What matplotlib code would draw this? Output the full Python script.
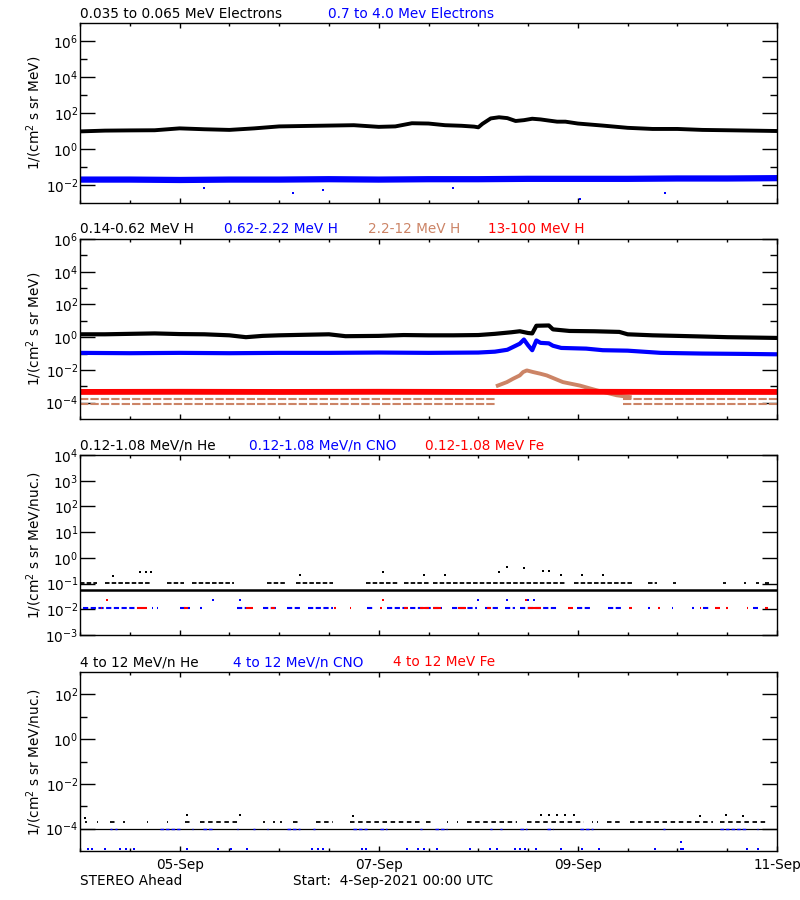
import matplotlib
matplotlib.use('Agg')
import matplotlib.pyplot as plt
from matplotlib.ticker import FixedLocator, FixedFormatter, NullFormatter

plt.rcParams['font.family'] = ['DejaVu Sans']
plt.rcParams['mathtext.fontset'] = 'dejavusans'

SIENNA = '#CC8466'

# ---------------- panel 1: electrons (hours since 4-Sep 00:00)
e_lo_hours = [0, 6, 12, 18, 24, 30, 36, 42, 48, 54, 60, 66, 72, 76, 80, 84, 88, 92, 95, 96,
              97, 99, 101, 103, 105, 107, 109, 111, 113, 115, 117, 120, 126, 132, 138, 144,
              150, 156, 162, 168]
e_lo_flux = [9.5, 10.5, 10.8, 11, 14, 12.5, 11.5, 14, 18, 19, 20, 21, 17, 18, 27, 26, 21, 19.5,
             17.5, 16, 25, 50, 58, 52, 36, 40, 48, 44, 38, 33, 33, 26, 20, 15, 13, 13, 11.5, 11,
             10.5, 10]
e_hi_hours = [0, 12, 24, 36, 48, 60, 72, 84, 96, 108, 120, 132, 144, 156, 168]
e_hi_flux = [0.020, 0.020, 0.019, 0.020, 0.020, 0.021, 0.020, 0.021, 0.021, 0.022, 0.022,
             0.022, 0.023, 0.023, 0.024]
e_hi_out_hours = [51.4, 58.6, 120.5, 141, 30, 90]
e_hi_out_flux = [0.0036, 0.005, 0.0017, 0.0036, 0.007, 0.007]

# ---------------- panel 2: protons
h1_hours = [0, 6, 12, 18, 24, 30, 36, 40, 44, 48, 54, 60, 64, 72, 78, 84, 90, 96, 100, 104,
            106, 108, 109, 110, 113, 114, 118, 124, 130, 132, 138, 144, 150, 156, 162, 168]
h1_flux = [1.5, 1.5, 1.6, 1.7, 1.55, 1.5, 1.3, 1.0, 1.2, 1.3, 1.4, 1.5, 1.15, 1.2, 1.35, 1.3,
           1.3, 1.35, 1.6, 2.0, 2.3, 1.8, 1.7, 5.0, 5.2, 3.0, 2.4, 2.3, 2.1, 1.5, 1.3, 1.2, 1.1,
           1.0, 0.95, 0.9]
h2_hours = [0, 12, 24, 36, 48, 60, 72, 84, 96, 100, 103, 105, 106, 107, 108, 109, 110, 111,
            113, 114, 116, 122, 126, 132, 140, 150, 160, 168]
h2_flux = [0.11, 0.105, 0.11, 0.105, 0.11, 0.11, 0.115, 0.11, 0.115, 0.13, 0.17, 0.3, 0.4,
           0.72, 0.32, 0.16, 0.63, 0.45, 0.42, 0.3, 0.22, 0.2, 0.16, 0.15, 0.11, 0.1, 0.095, 0.09]
h3_hours = [100.7, 102.9, 104.4, 106, 106.8, 107.7, 109.2, 110.9, 112.5, 116.4, 120.5, 124.6,
            129.4, 132.5]
h3_flux = [1.1e-3, 1.8e-3, 2.9e-3, 4.6e-3, 7.4e-3, 9.3e-3, 7.4e-3, 5.9e-3, 4.6e-3, 1.8e-3,
           1.1e-3, 5.6e-4, 2.8e-4, 2.2e-4]
h3_base_levels = [1.6e-4, 8e-5]
h3_base_start = [0, 131]
h3_base_end = [100, 168]
h4_hours = [0, 24, 48, 72, 96, 120, 144, 168]
h4_flux = [4.5e-4, 4.6e-4, 4.5e-4, 4.6e-4, 4.5e-4, 4.6e-4, 4.5e-4, 4.5e-4]

# ---------------- panel 3: 0.12-1.08 MeV/n ions
he_base_level = 0.055
he_mid_level = 0.11
he_mid_start = [0, 6, 21, 27, 45, 52, 69, 78, 85, 119, 137, 143, 155, 160, 163, 165]
he_mid_end = [4, 17, 25, 37, 50, 61, 77, 84, 117, 133, 139, 143.6, 155.6, 160.6, 163.6, 166]
he_high_hours = [14.5, 16, 17, 8, 53, 73, 83, 88, 101, 103, 107, 111.6, 113, 116, 121, 126]
he_high_flux = [0.27, 0.27, 0.27, 0.2, 0.22, 0.27, 0.21, 0.22, 0.27, 0.43, 0.4, 0.3, 0.3,
                0.21, 0.21, 0.21]
cno_level = 0.0117
cno_start = [0.8, 17.3, 18.5, 24.1, 28.9, 37.8, 44.2, 49.8, 55, 69.1, 73.9, 89.6, 97.6, 102.4,
             106, 119.7, 127.3, 136.9, 142.6, 147.6, 150.1, 162.2]
cno_end = [13.7, 17.7, 18.9, 26.5, 29.3, 40, 47.4, 53, 61, 70.7, 87.2, 95.6, 101.2, 104.8,
           115.3, 122.9, 130.5, 137.4, 143, 148, 151.8, 163.4]
fe_start = [5, 13.7, 25, 40, 46, 61.2, 65, 72.3, 78, 82, 85, 91, 98, 108, 117.7, 132.3, 139.3,
            149.4, 153, 155.7, 160.7, 165.1]
fe_end = [5.4, 16.1, 26, 41.8, 47, 61.6, 65.4, 72.7, 79, 84, 87, 93, 99, 111, 118.9, 133,
          139.7, 149.8, 154.2, 156.1, 161.1, 165.8]
cno_high_hours = [32, 38.6, 96, 103, 108, 109.5]
fe_high_hours = [6.4, 73, 107.5]
ion_high_level = 0.023

# ---------------- panel 4: 4-12 MeV/n ions
he4_base_level = 1e-4
he4_up_level = 2e-4
he4_up_start = [1.2, 4.0, 7.2, 10.4, 16.1, 20.9, 25.3, 29, 44.2, 46.6, 48.2, 51.4, 57, 65,
                83.5, 88.4, 90.8, 93.2, 107.7, 123.3, 124.5, 127, 132.5, 154.2]
he4_up_end = [1.6, 4.4, 8.4, 10.8, 16.5, 21.3, 27.3, 38.6, 44.6, 47, 48.6, 53, 61, 82, 85.2,
              88.8, 91.2, 105.3, 121.4, 123.7, 124.9, 130.2, 152.6, 165.4]
he4_high_hours = [1.2, 25.7, 38.6, 65.9, 111, 113, 115, 117, 119, 149.4, 155.8, 159.9]
he4_high_flux = [3e-4, 3.9e-4, 4.2e-4, 3.5e-4, 3.9e-4, 3.9e-4, 3.9e-4, 3.9e-4, 3.9e-4, 3.5e-4,
                 4.2e-4, 3.7e-4]
cno4_on_start = [7.2, 8.4, 19.3, 26.9, 29.7, 37.8, 41.8, 45, 49.8, 56.2, 65.9, 72.3, 82, 85.6,
                 98.8, 101.2, 106, 112.5, 120.5, 140.6, 154.2, 163.1]
cno4_on_end = [7.6, 8.8, 24.1, 27.3, 32.1, 38.2, 42.2, 45.4, 53, 56.6, 69.1, 73.9, 82.4, 88.4,
               99.2, 101.6, 107.7, 114.1, 123.7, 141, 160.7, 163.5]
cno4_low_hours = [2, 3, 6, 9.6, 11, 12.9, 25.7, 33.3, 36.5, 40.2, 56, 57.3, 58.6, 68, 69, 78.8,
                  81.5, 83, 86, 94, 98.8, 100.5, 104.8, 106, 107.3, 110, 116, 121, 125, 138.6,
                  144.8, 145.3, 160.7, 163.4]
cno4_low_flux = 1.2e-5
cno4_mid_hours = [144.8]
cno4_mid_flux = [2.5e-5]

xtick_hours = [24, 72, 120, 168]
xtick_labels = ['05-Sep', '07-Sep', '09-Sep', '11-Sep']

FS = 9.8
W, H = 800, 900
fig = plt.figure(figsize=(8, 9), dpi=100)


def px_axes(top, bottom):
    return fig.add_axes([80 / W, 1 - bottom / H, 697 / W, (bottom - top) / H])


def exp_label(e):
    return '$10^{%d}$' % e


def setup(ax, ylim, major_exp, minor_exp, show_x=False):
    ax.set_yscale('log')
    ax.set_ylim(*ylim)
    ax.set_xlim(0, 168)
    ax.yaxis.set_major_locator(FixedLocator([10.0 ** e for e in major_exp]))
    ax.yaxis.set_major_formatter(FixedFormatter([exp_label(e) for e in major_exp]))
    ax.yaxis.set_minor_locator(FixedLocator([10.0 ** e for e in minor_exp]))
    ax.yaxis.set_minor_formatter(NullFormatter())
    ax.xaxis.set_major_locator(FixedLocator(xtick_hours))
    ax.xaxis.set_minor_locator(FixedLocator(list(range(0, 169, 12))))
    if show_x:
        ax.xaxis.set_major_formatter(FixedFormatter(xtick_labels))
    else:
        ax.xaxis.set_major_formatter(NullFormatter())
    ax.tick_params(axis='y', which='major', direction='in', length=10.8, width=1.0,
                   color='black', left=True, right=True, labelsize=FS, pad=1.2)
    ax.tick_params(axis='y', which='minor', direction='in', length=5, width=1.0,
                   color='black', left=True, right=True)
    ax.tick_params(axis='x', which='major', direction='in', length=3.3, width=1.0,
                   color='black', top=True, bottom=True, labelsize=FS, pad=5)
    ax.tick_params(axis='x', which='minor', direction='in', length=2.4, width=1.0,
                   color='black', top=True, bottom=True)
    for s in ax.spines.values():
        s.set_linewidth(1.0)


def title_row(top, items):
    for x, txt, col in items:
        fig.text(x / W, 1 - (top - 5.5) / H, txt, color=col, fontsize=FS, va='baseline',
                 ha='left')


def ylabel(top, bottom, txt):
    fig.text(34 / W, 1 - (top + bottom) / 2 / H, txt, rotation=90, ha='center', va='center',
             fontsize=FS)


# ---- panel 1
ax1 = px_axes(23, 203)
setup(ax1, (1e-3, 1e7), [6, 4, 2, 0, -2], [5, 3, 1, -1])
ax1.plot(e_hi_hours, e_hi_flux, color='blue', lw=4.5)
ax1.plot(e_hi_out_hours, e_hi_out_flux, 's', color='blue', ms=1.8, mew=0)
ax1.plot(e_lo_hours, e_lo_flux, color='black', lw=2.8)
title_row(23, [(80, '0.035 to 0.065 MeV Electrons', 'black'),
               (328, '0.7 to 4.0 Mev Electrons', 'blue')])
ylabel(23, 203, '1/(cm$^2$ s sr MeV)')

# ---- panel 2
ax2 = px_axes(239, 419)
setup(ax2, (1e-5, 1e6), [6, 4, 2, 0, -2, -4], [5, 3, 1, -1, -3])
for lvl in h3_base_levels:
    ax2.hlines([lvl] * len(h3_base_start), h3_base_start, h3_base_end, color=SIENNA,
               lw=1.5, linestyles=(0, (4, 1)))
ax2.plot(h3_hours, h3_flux, color=SIENNA, lw=2.8)
ax2.plot(h4_hours, h4_flux, color='red', lw=4.2)
ax2.plot(h2_hours, h2_flux, color='blue', lw=3.0)
ax2.plot(h1_hours, h1_flux, color='black', lw=3.0)
title_row(239, [(80, '0.14-0.62 MeV H', 'black'), (224, '0.62-2.22 MeV H', 'blue'),
                (368, '2.2-12 MeV H', SIENNA), (488, '13-100 MeV H', 'red')])
ylabel(239, 419, '1/(cm$^2$ s sr MeV)')

# ---- panel 3
ax3 = px_axes(455, 635)
setup(ax3, (1e-3, 1e4), [4, 3, 2, 1, 0, -1, -2, -3], [])
ax3.hlines(he_base_level, 0, 168, color='black', lw=1.8)
ax3.hlines([he_mid_level] * len(he_mid_start), he_mid_start, he_mid_end, color='black',
           lw=1.3, linestyles=(0, (2.5, 1.2)))
ax3.plot(he_high_hours, he_high_flux, 's', color='black', ms=1.8, mew=0)
ax3.hlines([cno_level] * len(cno_start), cno_start, cno_end, color='blue', lw=1.5,
           linestyles=(0, (2.5, 1.2)))
ax3.hlines([cno_level] * len(fe_start), fe_start, fe_end, color='red', lw=1.5)
ax3.plot(cno_high_hours, [ion_high_level] * len(cno_high_hours), 's', color='blue', ms=1.8,
         mew=0)
ax3.plot(fe_high_hours, [ion_high_level] * len(fe_high_hours), 's', color='red', ms=1.8,
         mew=0)
title_row(455, [(80, '0.12-1.08 MeV/n He', 'black'), (249, '0.12-1.08 MeV/n CNO', 'blue'),
                (425, '0.12-1.08 MeV Fe', 'red')])
ylabel(455, 635, '1/(cm$^2$ s sr MeV/nuc.)')

# ---- panel 4
ax4 = px_axes(672, 851)
setup(ax4, (1e-5, 1e3), [2, 0, -2, -4], [1, -1, -3], show_x=True)
ax4.hlines(he4_base_level, 0, 168, color='black', lw=0.9)
ax4.hlines([he4_up_level] * len(he4_up_start), he4_up_start, he4_up_end, color='black',
           lw=1.3, linestyles=(0, (2.5, 2)))
ax4.plot(he4_high_hours, he4_high_flux, 's', color='black', ms=1.8, mew=0)
ax4.hlines([he4_base_level] * len(cno4_on_start), cno4_on_start, cno4_on_end, color='blue',
           lw=1.0, linestyles=(0, (2.5, 1.5)))
ax4.plot(cno4_low_hours, [cno4_low_flux] * len(cno4_low_hours), 's', color='blue', ms=1.8,
         mew=0)
ax4.plot(cno4_mid_hours, cno4_mid_flux, 's', color='blue', ms=1.8, mew=0)
title_row(672, [(80, '4 to 12 MeV/n He', 'black'), (233, '4 to 12 MeV/n CNO', 'blue'),
                (393, '4 to 12 MeV Fe', 'red')])
ylabel(672, 851, '1/(cm$^2$ s sr MeV/nuc.)')

fig.text(80 / W, 1 - 885 / H, 'STEREO Ahead', fontsize=FS, va='baseline')
fig.text(293 / W, 1 - 885 / H, 'Start:  4-Sep-2021 00:00 UTC', fontsize=FS, va='baseline')

fig.savefig('out.png', dpi=100)
